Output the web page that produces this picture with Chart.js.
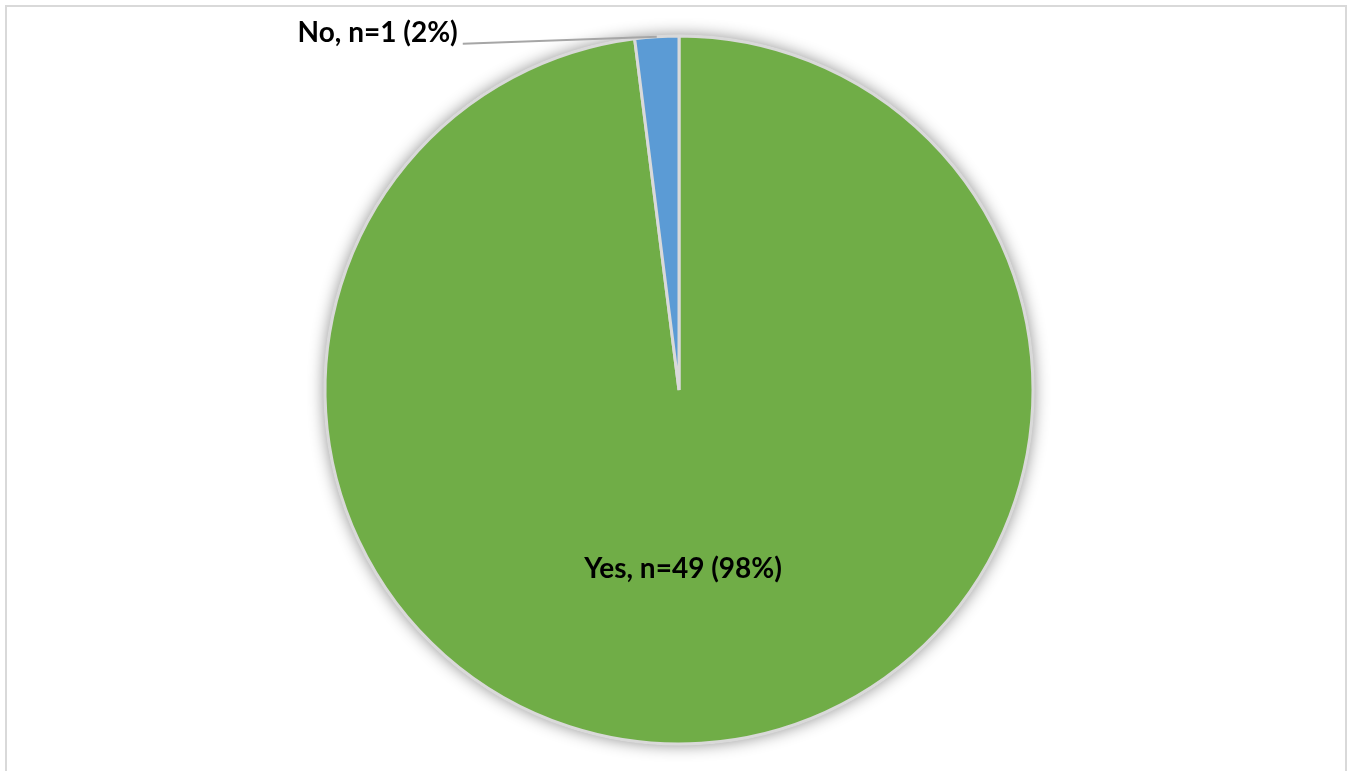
<!DOCTYPE html>
<html>
<head>
<meta charset="utf-8">
<script src="https://cdn.jsdelivr.net/npm/chart.js@4/dist/chart.umd.min.js"></script>
<style>
  html, body { margin: 0; padding: 0; background: #ffffff; overflow: hidden; }
  #frame {
    position: absolute; left: 5px; top: 5px; width: 1342px; height: 820px;
    border: 2px solid #d9d9d9; box-sizing: border-box;
  }
  #wrap { position: absolute; left: 0; top: 0; width: 1351px; height: 771px; }
</style>
</head>
<body>
<div id="frame"></div>
<div id="wrap"><canvas id="c" width="1351" height="771"></canvas></div>
<script>
// Survey answers
const categories = ['Yes', 'No'];
const counts = [49, 1];
const percents = [98, 2];
const sliceColors = ['#70AD47', '#5B9BD5'];

const LABEL_FONT = 'bold 28px Lato, "Open Sans", sans-serif';

// Soft grey halo behind the whole pie
const pieShadow = {
  id: 'pieShadow',
  beforeDatasetsDraw(chart) {
    const arc = chart.getDatasetMeta(0).data[0];
    if (!arc) return;
    const ctx = chart.ctx;
    ctx.save();
    ctx.shadowColor = 'rgba(0,0,0,0.45)';
    ctx.shadowBlur = 16;
    ctx.fillStyle = '#ffffff';
    ctx.beginPath();
    ctx.arc(arc.x, arc.y, arc.outerRadius + 1, 0, Math.PI * 2);
    ctx.fill();
    ctx.restore();
  }
};

// Slice labels: the big slice gets its label inside, the thin slice gets
// an outside label joined by a leader line
const sliceLabels = {
  id: 'sliceLabels',
  afterDatasetsDraw(chart) {
    const ctx = chart.ctx;
    const meta = chart.getDatasetMeta(0);
    ctx.save();
    ctx.font = LABEL_FONT;
    ctx.fillStyle = '#000000';
    ctx.textBaseline = 'middle';
    meta.data.forEach((arc, i) => {
      const text = categories[i] + ', n=' + counts[i] + ' (' + percents[i] + '%)';
      const mid = (arc.startAngle + arc.endAngle) / 2;
      if (i === 0) {
        const p = arc.getCenterPoint();
        ctx.textAlign = 'center';
        ctx.fillText(text, p.x - 7, p.y + 2);
      } else {
        const ex = arc.x + Math.cos(mid) * arc.outerRadius;
        const ey = arc.y + Math.sin(mid) * arc.outerRadius;
        const lx = ex - 194, ly = ey + 7;
        ctx.strokeStyle = '#a6a6a6';
        ctx.lineWidth = 2;
        ctx.beginPath();
        ctx.moveTo(lx, ly);
        ctx.lineTo(ex, ey);
        ctx.stroke();
        ctx.textAlign = 'right';
        ctx.fillText(text, lx - 5, ly - 11);
      }
    });
    ctx.restore();
  }
};

new Chart(document.getElementById('c'), {
  type: 'pie',
  data: {
    labels: categories,
    datasets: [{
      data: counts,
      backgroundColor: sliceColors,
      borderColor: '#d9d9d9',
      borderWidth: 3
    }]
  },
  options: {
    responsive: false,
    animation: false,
    radius: 354,
    layout: { padding: { left: 7, right: 0, top: 9, bottom: 0 } },
    plugins: {
      legend: { display: false },
      tooltip: { enabled: false },
      title: { display: false }
    }
  },
  plugins: [pieShadow, sliceLabels]
});
</script>
</body>
</html>
